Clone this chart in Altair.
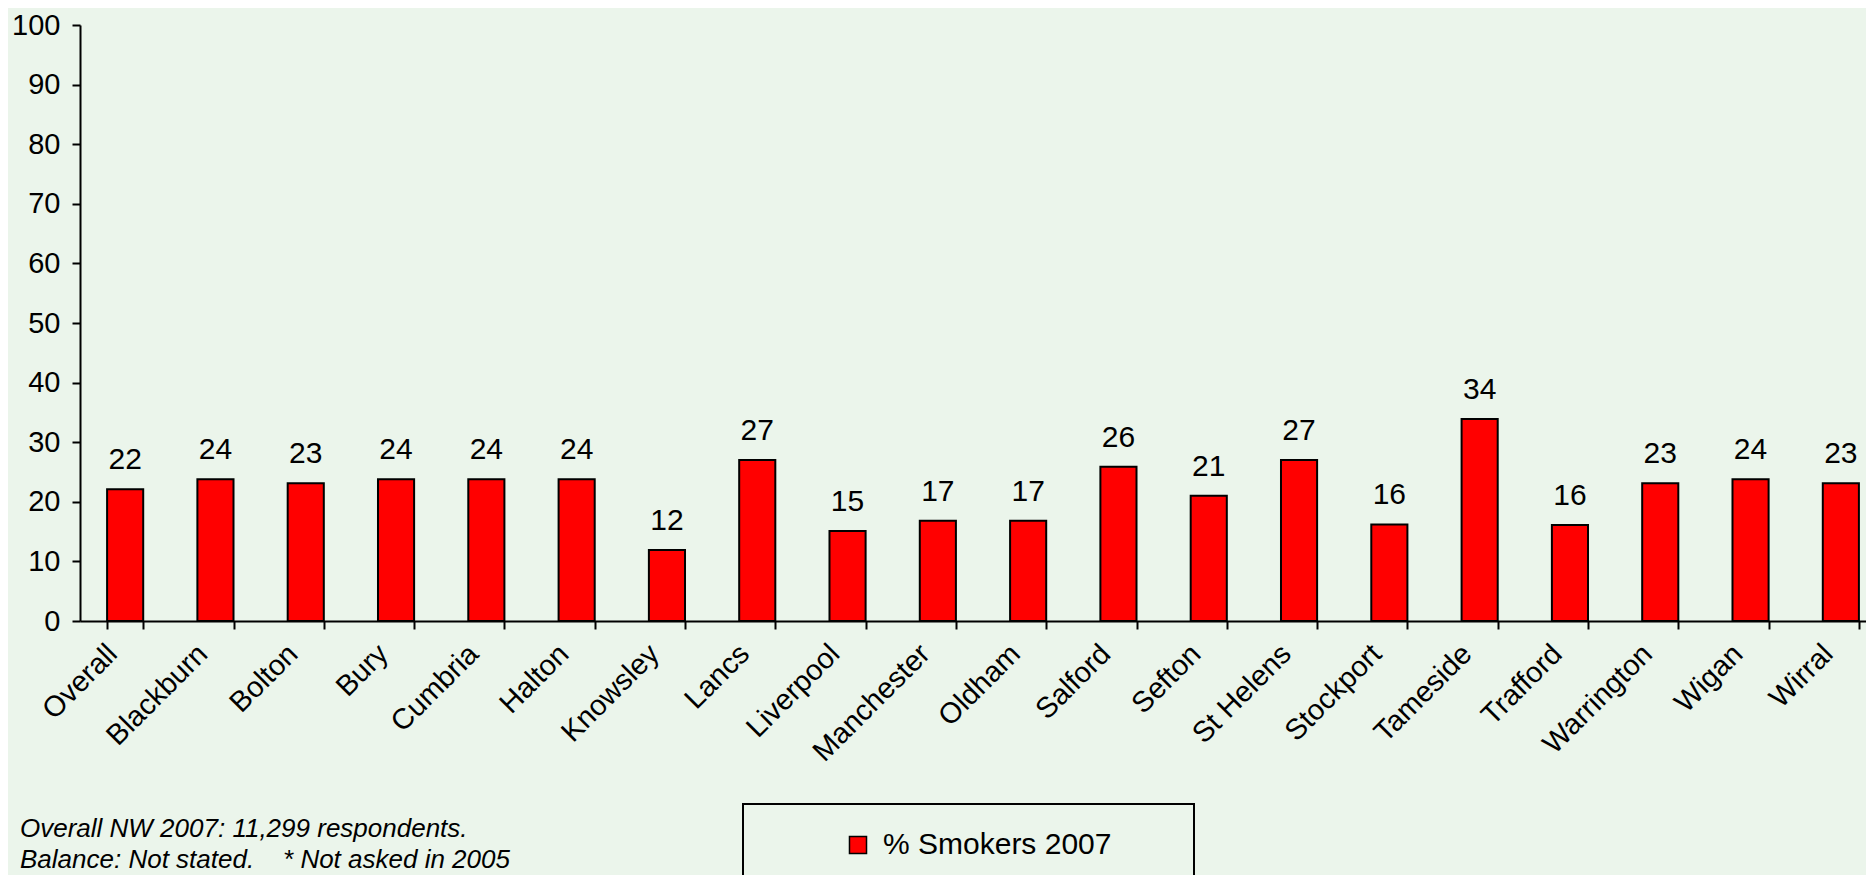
import altair as alt
import pandas as pd

categories = ["Overall", "Blackburn", "Bolton", "Bury", "Cumbria", "Halton",
              "Knowsley", "Lancs", "Liverpool", "Manchester", "Oldham", "Salford",
              "Sefton", "St Helens", "Stockport", "Tameside", "Trafford",
              "Warrington", "Wigan", "Wirral"]
values = [22.1, 23.8, 23.1, 23.8, 23.8, 23.8, 11.9, 27.0, 15.1, 16.8, 16.8,
          25.9, 21.0, 27.0, 16.2, 33.9, 16.1, 23.1, 23.8, 23.1]
series_name = "% Smokers 2007"
y_ticks = [0, 10, 20, 30, 40, 50, 60, 70, 80, 90, 100]
NBSP = "\u00a0"
footnote_lines = ["Overall NW 2007: 11,299 respondents.",
                  "Balance: Not stated." + NBSP * 4 + "* Not asked in 2005"]

FONT = "Liberation Sans"
BG = "#EBF5EB"

df = pd.DataFrame({"area": categories, "pct": values, "series": series_name})

x_enc = alt.X("area:N", sort=categories,
              scale=alt.Scale(range=[0, 1806], paddingInner=0.6, paddingOuter=0.3),
              axis=alt.Axis(title=None, tickBand="extent", labelAngle=-45,
                            labelAlign="right", labelBaseline="top",
                            labelPadding=10, labelOffset=-23,
                            labelFontSize=29, labelFont=FONT, labelColor="black",
                            tickSize=8, tickWidth=2, tickColor="black",
                            domainColor="black", domainWidth=2, grid=False))
y_enc = alt.Y("pct:Q", scale=alt.Scale(domain=[0, 100], nice=False),
              axis=alt.Axis(title=None, values=y_ticks, labelFontSize=29,
                            labelFont=FONT, labelColor="black", labelPadding=12,
                            tickSize=8, tickWidth=2, tickColor="black",
                            domainColor="black", domainWidth=2, grid=False))

bars = alt.Chart(df).mark_bar(stroke="black", strokeWidth=2).encode(
    x=x_enc,
    y=y_enc,
    color=alt.Color("series:N",
                    scale=alt.Scale(domain=[series_name], range=["#FF0000"]),
                    legend=alt.Legend(title=None, orient="none", legendX=763,
                                      legendY=805, padding=0, symbolType="square",
                                      symbolSize=290, symbolStrokeColor="black",
                                      symbolStrokeWidth=1.5, labelFontSize=30,
                                      labelFont=FONT, labelColor="black",
                                      labelOffset=10, labelLimit=600)),
)

labels = alt.Chart(df).mark_text(dy=-20, baseline="alphabetic", fontSize=30,
                                 font=FONT, color="black").encode(
    x=alt.X("area:N", sort=categories),
    y=alt.Y("pct:Q"),
    text=alt.Text("pct:Q", format=".0f"),
)

one = alt.Data(values=[{}])

legend_box = alt.Chart(one).mark_rect(fill=BG, fillOpacity=0, stroke="black",
                                      strokeWidth=2).encode(
    x=alt.value(663), x2=alt.value(1114), y=alt.value(779), y2=alt.value(900)
)

footnote = alt.Chart(one).mark_text(text=footnote_lines, align="left",
                                    baseline="alphabetic", font=FONT,
                                    fontSize=26, fontStyle="italic",
                                    lineHeight=31, color="black").encode(
    x=alt.value(-60), y=alt.value(812)
)

chart = alt.layer(legend_box, bars, labels, footnote).properties(
    width=1780, height=596,
    autosize=alt.AutoSizeParams(type="none"),
    padding={"left": 72, "top": 17, "right": 6, "bottom": 254},
    background=BG,
).configure_view(stroke=None)

chart.save("out.html", embed_options={"renderer": "svg", "actions": False})
